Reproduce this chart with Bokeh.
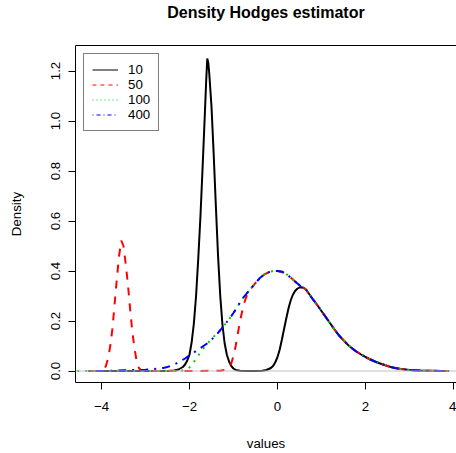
from bokeh.plotting import figure
from bokeh.models import (Range1d, FixedTicker, LinearAxis, Legend, LegendItem,
                          Span)
from bokeh.embed import file_html
from bokeh.resources import INLINE

FONT = "Liberation Sans"
FS = "13.3px"
NAN = float("nan")

# ---------------- data ----------------
title_text = "Density Hodges estimator"
x_label = "values"
y_label = "Density"
series_names = ["10", "50", "100", "400"]
series_colors = ["black", "#FF0000", "#00CD00", "#0000FF"]

x_ticks = [-4, -2, 0, 2, 4]
x_tick_labels = ["\u22124", "\u22122", "0", "2", "4"]
y_ticks = [0.0, 0.2, 0.4, 0.6, 0.8, 1.0, 1.2]
y_tick_labels = ["0.0", "0.2", "0.4", "0.6", "0.8", "1.0", "1.2"]

# right tail shared by all four curves
tail_x = [0.65, 0.7, 0.8, 0.9, 1.0, 1.1, 1.2, 1.3, 1.4, 1.5, 1.6, 1.7, 1.8,
          1.9, 2.0, 2.1, 2.2, 2.3, 2.4, 2.5, 2.6, 2.7, 2.8, 3.0, 3.2, 3.5, 3.9]
tail_y = [0.325, 0.313, 0.288, 0.265, 0.24, 0.215, 0.19, 0.165, 0.142, 0.123,
          0.105, 0.09, 0.077, 0.066, 0.056, 0.047, 0.039, 0.032, 0.026, 0.02,
          0.015, 0.011, 0.008, 0.004, 0.002, 0.0008, 0.0]

# central body shared by n = 50, 100, 400
core_x = [-1.1, -1.0, -0.9, -0.8, -0.7, -0.6, -0.5, -0.4, -0.3, -0.2, -0.1,
          0.0, 0.1, 0.2, 0.3, 0.4, 0.5, 0.55, 0.6]
core_y = [0.207, 0.232, 0.26, 0.288, 0.31, 0.33, 0.352, 0.372, 0.386, 0.395,
          0.40, 0.40, 0.397, 0.388, 0.374, 0.358, 0.343, 0.337, 0.332]

# n = 10
n10_x = [-4.25, -3.6, -3.0, -2.5, -2.35, -2.25, -2.15, -2.1, -2.05, -2.0,
         -1.95, -1.9, -1.85, -1.8, -1.75, -1.7, -1.65, -1.62, -1.595, -1.57,
         -1.55, -1.5, -1.45, -1.4, -1.35, -1.3, -1.25, -1.2, -1.15, -1.1,
         -1.05, -1.0, -0.95, -0.85, -0.7, -0.5, -0.35, -0.25, -0.15, -0.1,
         -0.05, 0.0, 0.05, 0.1, 0.15, 0.2, 0.25, 0.3, 0.35, 0.4, 0.45, 0.5,
         0.55, 0.6]
n10_y = [0.0, 0.0, 0.0, 0.0, 0.002, 0.006, 0.016, 0.026, 0.042, 0.065,
         0.115, 0.19, 0.30, 0.45, 0.62, 0.82, 1.03, 1.16, 1.25, 1.23,
         1.19, 1.06, 0.87, 0.66, 0.46, 0.30, 0.185, 0.11, 0.065, 0.038,
         0.02, 0.01, 0.004, 0.001, 0.0, 0.0, 0.001, 0.004, 0.012, 0.02,
         0.035, 0.055, 0.085, 0.125, 0.168, 0.21, 0.25, 0.282, 0.305, 0.32,
         0.329, 0.334, 0.335, 0.332]

# n = 50 (left part, joins the core at -0.6)
n50_x = [-4.25, -4.05, -3.95, -3.9, -3.85, -3.8, -3.75, -3.7, -3.65, -3.6,
         -3.55, -3.5, -3.45, -3.4, -3.35, -3.3, -3.25, -3.2, -3.15, -3.1,
         -3.0, -2.0, -1.3, -1.2, -1.1, -1.05, -1.0, -0.95, -0.9, -0.85,
         -0.8, -0.75, -0.7, -0.65]
n50_y = [0.0, 0.0, 0.005, 0.02, 0.05, 0.10, 0.17, 0.27, 0.37, 0.46,
         0.522, 0.50, 0.43, 0.35, 0.25, 0.16, 0.09, 0.04, 0.012, 0.003,
         0.0, 0.0, 0.001, 0.004, 0.015, 0.03, 0.06, 0.10, 0.15, 0.20,
         0.24, 0.275, 0.30, 0.318]

# n = 100 (left part, joins the core at -1.1)
n100_x = [-4.55, -3.5, -2.5, -2.2, -2.1, -2.0, -1.9, -1.8, -1.7, -1.6, -1.5,
          -1.4, -1.3, -1.2]
n100_y = [0.0, 0.0, 0.0, 0.001, 0.004, 0.014, 0.036, 0.062, 0.087, 0.108,
          0.128, 0.146, 0.164, 0.185]

# n = 400 (left part, joins the core at -1.1)
n400_x = [-4.3, -3.9, -3.5, -3.2, -3.0, -2.8, -2.6, -2.5, -2.4, -2.3, -2.2,
          -2.1, -2.0, -1.9, -1.8, -1.7, -1.6, -1.5, -1.4, -1.3, -1.2]
n400_y = [0.0, 0.0, 0.003, 0.004, 0.005, 0.008, 0.012, 0.016, 0.022, 0.03,
          0.04, 0.05, 0.062, 0.074, 0.086, 0.098, 0.11, 0.125, 0.143, 0.163,
          0.185]

# ---------------- assemble series ----------------
def after(xs, ys, x0):
    px, py = [], []
    for a, b in zip(xs, ys):
        if a > x0:
            px.append(a)
            py.append(b)
    return px, py

cx50, cy50 = after(core_x, core_y, -0.62)
series = [
    (n10_x + tail_x, n10_y + tail_y),
    (n50_x + cx50 + tail_x, n50_y + cy50 + tail_y),
    (n100_x + core_x + tail_x, n100_y + core_y + tail_y),
    (n400_x + core_x + tail_x, n400_y + core_y + tail_y),
]
plot_dash = ["solid", "8 8", "2 6", "2 6 8 6"]
legend_dash = ["solid", "4 4", "1 3", "1 3 4 3"]

# ---------------- figure ----------------
p = figure(width=456, height=453, output_backend="svg", toolbar_location=None,
           x_range=Range1d(-4.59, 4.069), y_range=Range1d(-0.046, 1.302),
           min_border_left=75, min_border_right=0, min_border_top=45,
           min_border_bottom=71)
p.title = None
p.outline_line_color = None
p.grid.visible = False
p.background_fill_color = "white"
p.border_fill_color = "white"

zero = Span(location=0, dimension="width", line_color="#C0C0C0", line_width=1.2)
p.add_layout(zero)

legend_items = []
for (xs, ys), name, col, dash, ldash in zip(series, series_names, series_colors,
                                            plot_dash, legend_dash):
    p.line(xs, ys, line_color=col, line_width=2, line_dash=dash)
    # legend-only glyph (thin line, R legend style); its single point is NaN
    dummy = p.line([NAN], [NAN], line_color=col, line_width=1, line_dash=ldash)
    legend_items.append(LegendItem(label=name, renderers=[dummy]))

legend = Legend(items=legend_items, location=(8, 251), margin=0, padding=8,
                spacing=0, label_height=15, glyph_height=15, glyph_width=26,
                label_standoff=10, border_line_color="black",
                border_line_width=1, background_fill_color="white",
                background_fill_alpha=1.0, label_text_font=FONT,
                label_text_font_size=FS, label_text_color="black")
p.add_layout(legend)

# axes
xa = p.xaxis[0]
xa.ticker = FixedTicker(ticks=x_ticks)
xa.major_label_overrides = dict(zip(x_ticks, x_tick_labels))
ya = p.yaxis[0]
ya.ticker = FixedTicker(ticks=y_ticks)
ya.major_label_overrides = dict(zip(y_ticks, y_tick_labels))
ya.major_label_orientation = "vertical"
for ax in (xa, ya):
    ax.axis_line_color = "black"
    ax.axis_line_width = 1
    ax.major_tick_line_color = "black"
    ax.major_tick_out = 7
    ax.major_tick_in = 0
    ax.minor_tick_line_color = None
    ax.major_label_text_font = FONT
    ax.major_label_text_font_size = FS
    ax.major_label_text_color = "black"
    ax.axis_label_text_font = FONT
    ax.axis_label_text_font_size = FS
    ax.axis_label_text_font_style = "normal"
    ax.axis_label_text_color = "black"
xa.axis_label = x_label
ya.axis_label = y_label
xa.major_label_standoff = 12
xa.axis_label_standoff = 22
ya.major_label_standoff = 9
ya.axis_label_standoff = 24

# top border line of the box; it also carries the chart title
top = LinearAxis(ticker=FixedTicker(ticks=[]), axis_line_color="black",
                 major_tick_line_color=None, minor_tick_line_color=None,
                 major_tick_out=0, major_tick_in=0, major_label_standoff=0,
                 major_label_text_font_size="0px",
                 axis_label=title_text, axis_label_standoff=25,
                 axis_label_text_font=FONT, axis_label_text_font_size="16px",
                 axis_label_text_font_style="bold",
                 axis_label_text_color="black")
p.add_layout(top, "above")

open("out.html", "w").write(file_html(p, INLINE))
